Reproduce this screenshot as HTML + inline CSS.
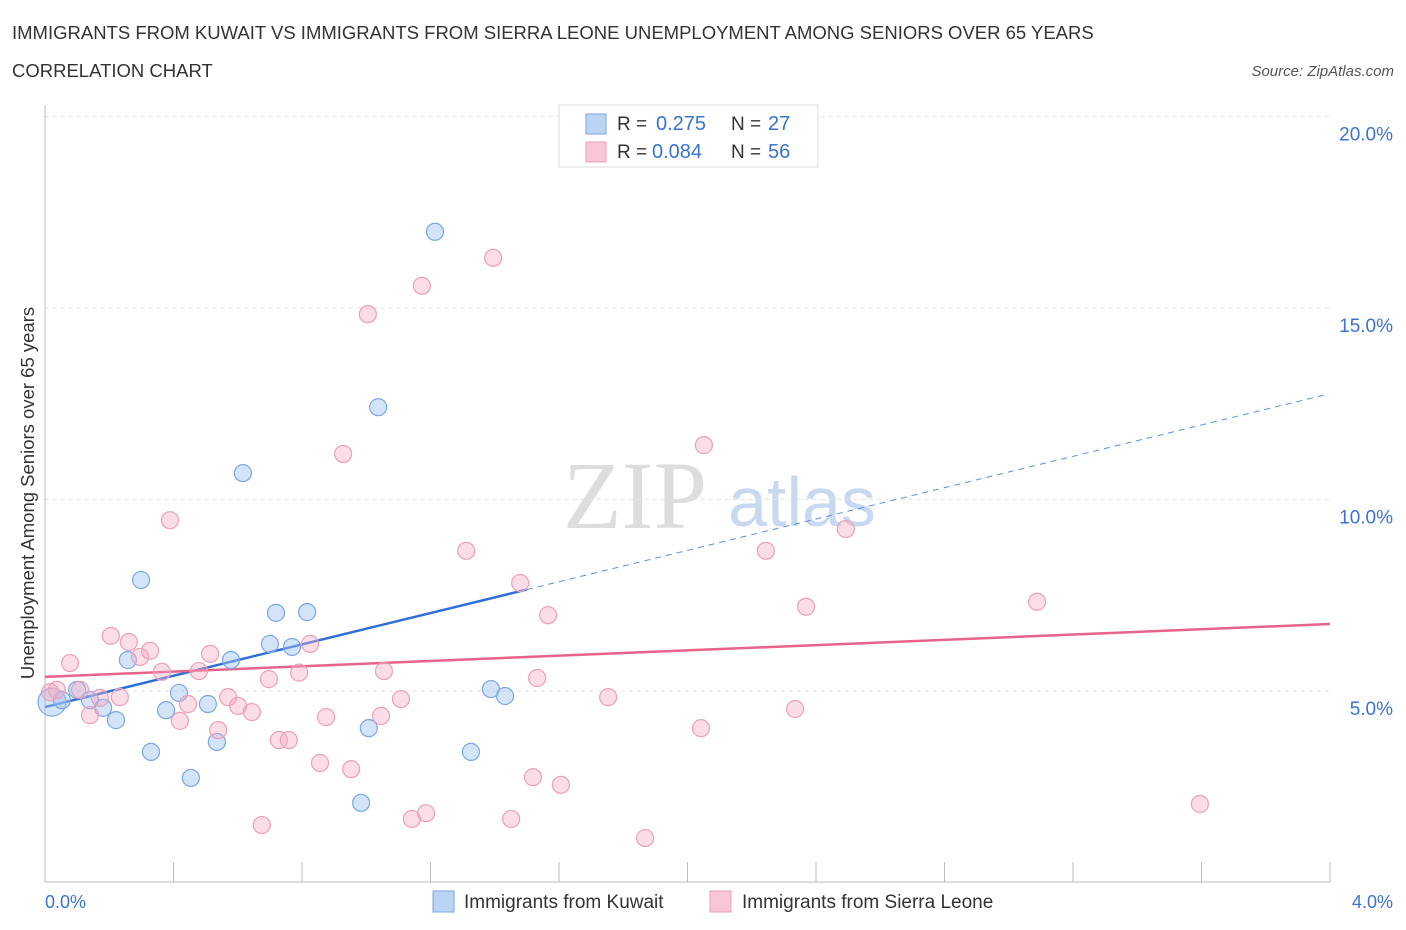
<!DOCTYPE html>
<html><head><meta charset="utf-8"><style>
body{margin:0;background:#fff;font-family:"Liberation Sans",sans-serif;}
svg{display:block}
</style></head><body>
<svg id="c" width="1406" height="930">
<text x="12" y="39" font-size="18.5" fill="#333">IMMIGRANTS FROM KUWAIT VS IMMIGRANTS FROM SIERRA LEONE UNEMPLOYMENT AMONG SENIORS OVER 65 YEARS</text>
<text x="12" y="77" font-size="18.5" fill="#333">CORRELATION CHART</text>
<text x="1394" y="76" font-size="15" fill="#555" font-style="italic" text-anchor="end">Source: ZipAtlas.com</text>
<text x="635" y="528" font-size="96" fill="#ddd" font-family="Liberation Serif" text-anchor="middle">ZIP</text>
<text x="802" y="526" font-size="70" fill="#c8d8ee" text-anchor="middle">atlas</text>
<g id="grid"></g><g id="axes"></g><g id="lines"></g><g id="pts"></g>
<text transform="translate(34,493) rotate(-90)" font-size="18.5" fill="#333" text-anchor="middle">Unemployment Among Seniors over 65 years</text>
<text x="45" y="908" font-size="18" fill="#3a73d0">0.0%</text>
<text x="1393" y="908" font-size="18" fill="#3a73d0" text-anchor="end">4.0%</text>
<g>
<rect x="559" y="105" width="259" height="62" fill="#fff" stroke="#ddd"/>
<rect x="586" y="114" width="20" height="20" fill="#bcd4f4" stroke="#7aa7e0"/>
<rect x="586" y="142" width="20" height="20" fill="#f9c6d5" stroke="#eba0b8"/>
<text x="617" y="130" font-size="19" fill="#333">R =</text>
<text x="656" y="130" font-size="20" fill="#3a73d0">0.275</text>
<text x="731" y="130" font-size="19" fill="#333">N =</text>
<text x="768" y="130" font-size="20" fill="#3a73d0">27</text>
<text x="617" y="158" font-size="19" fill="#333">R =</text>
<text x="652" y="158" font-size="20" fill="#3a73d0">0.084</text>
<text x="731" y="158" font-size="19" fill="#333">N =</text>
<text x="768" y="158" font-size="20" fill="#3a73d0">56</text>
</g>
<g>
<rect x="433" y="891" width="21" height="21" fill="#bcd4f4" stroke="#7aa7e0"/>
<text x="464" y="908" font-size="19" fill="#333">Immigrants from Kuwait</text>
<rect x="710" y="891" width="21" height="21" fill="#f9c6d5" stroke="#eba0b8"/>
<text x="742" y="908" font-size="19" fill="#333">Immigrants from Sierra Leone</text>
</g>
</svg>
<script>
const yTicks=[5,10,15,20];
const yTickLabels=["5.0%","10.0%","15.0%","20.0%"];
const xTicks=[0,0.4,0.8,1.2,1.6,2.0,2.4,2.8,3.2,3.6,4.0];
const kuwaitX=[0.022,0.053,0.100,0.140,0.181,0.221,0.258,0.299,0.330,0.377,0.417,0.454,0.507,0.535,0.579,0.616,0.700,0.719,0.769,0.816,0.984,1.008,1.037,1.214,1.326,1.388,1.432];
const kuwaitY=[4.71,4.76,5.03,4.76,4.56,4.24,5.81,7.90,3.41,4.50,4.95,2.73,4.66,3.67,5.81,10.69,6.23,7.04,6.15,7.06,2.08,4.03,12.41,16.99,3.41,5.05,4.87];
const sierraX=[0.016,0.037,0.078,0.109,0.140,0.171,0.205,0.233,0.261,0.296,0.327,0.364,0.389,0.420,0.445,0.479,0.514,0.539,0.570,0.601,0.644,0.675,0.697,0.728,0.759,0.791,0.825,0.856,0.875,0.928,0.953,1.005,1.046,1.055,1.108,1.142,1.173,1.186,1.311,1.395,1.451,1.479,1.519,1.532,1.566,1.606,1.753,1.868,2.042,2.051,2.244,2.335,2.369,2.493,3.088,3.595];
const sierraY=[4.97,5.03,5.73,5.03,4.37,4.82,6.44,4.84,6.28,5.89,6.05,5.50,9.46,4.22,4.66,5.52,5.97,3.98,4.84,4.61,4.45,1.50,5.31,3.72,3.72,5.48,6.23,3.12,4.32,11.19,2.96,14.84,4.35,5.52,4.79,1.66,15.58,1.81,8.66,16.31,1.66,7.82,2.75,5.34,6.98,2.55,4.84,1.16,4.03,11.42,8.66,4.53,7.20,9.23,7.33,2.05];
const kuwaitFit=[4.58,2.046,1.50,3.99];
const sierraFit=[5.37,6.75];
const NS="http://www.w3.org/2000/svg";
const sx=v=>45+v*321.25, sy=v=>882.5-v*38.3;
function mk(p,t,a){const e=document.createElementNS(NS,t);for(const k in a)e.setAttribute(k,a[k]);document.getElementById(p).appendChild(e);return e;}
yTicks.forEach((v,i)=>{
 const g=mk('grid','line',{x1:45,x2:1330,y1:sy(v),y2:sy(v),stroke:'#e2e2e2','stroke-dasharray':'4,4'});
 
 
 const t=mk('grid','text',{x:1393,y:sy(v)+24,'font-size':19,fill:'#3a73d0','text-anchor':'end'});t.textContent=yTickLabels[i];
 
 
});
const ya=mk('axes','line',{x1:45,x2:45,y1:105,y2:882,stroke:'#bbb'});


const xa=mk('axes','line',{x1:45,x2:1330,y1:882,y2:882,stroke:'#bbb'});


xTicks.forEach(v=>{const t=mk('axes','line',{x1:sx(v),x2:sx(v),y1:862,y2:882,stroke:'#bbb'});
 
 });
const kf=x=>kuwaitFit[0]+kuwaitFit[1]*x;
let l=mk('lines','line',{x1:sx(0),y1:sy(kf(0)),x2:sx(kuwaitFit[2]),y2:sy(kf(kuwaitFit[2])),stroke:'#2f6fd6','stroke-width':2.5});


l=mk('lines','line',{x1:sx(kuwaitFit[2]),y1:sy(kf(kuwaitFit[2])),x2:sx(kuwaitFit[3]),y2:sy(kf(kuwaitFit[3])),stroke:'#5b8fdc','stroke-width':1,'stroke-dasharray':'6,5'});


l=mk('lines','line',{x1:sx(0),y1:sy(sierraFit[0]),x2:sx(4),y2:sy(sierraFit[1]),stroke:'#e8638c','stroke-width':2.5});


kuwaitX.forEach((x,i)=>{const c=mk('pts','circle',{cx:sx(x),cy:sy(kuwaitY[i]),r:i==0?14:8.5,fill:'rgba(160,195,240,0.45)',stroke:'#7aa7e0','stroke-width':1.2});
 
 });
sierraX.forEach((x,i)=>{const c=mk('pts','circle',{cx:sx(x),cy:sy(sierraY[i]),r:8.5,fill:'rgba(245,170,195,0.4)',stroke:'#eba0b8','stroke-width':1.2});
 
 });
</script>
</body></html>
